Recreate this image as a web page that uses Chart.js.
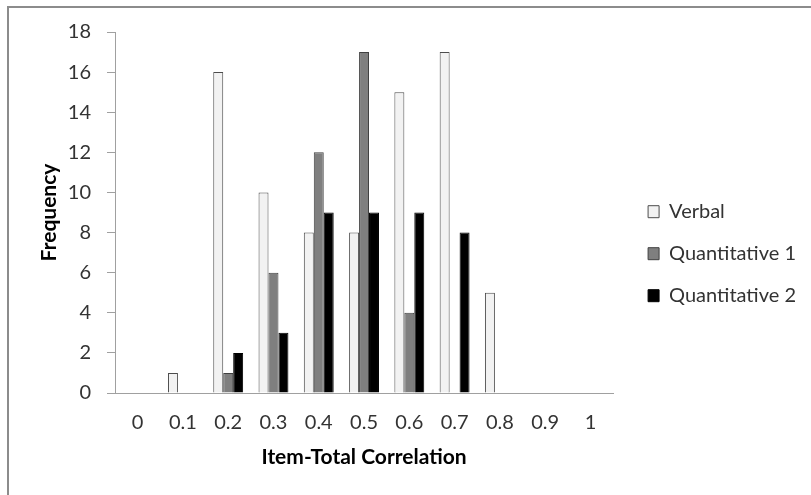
<!DOCTYPE html>
<html>
<head>
<meta charset="utf-8">
<script src="https://cdn.jsdelivr.net/npm/chart.js@4"></script>
<style>
  html, body { margin: 0; padding: 0; background: #fff; }
  #wrap { position: relative; width: 811px; height: 495px; }
  #frame { position: absolute; left: 7px; top: 6px; right: 0; bottom: 0;
           border-left: 2px solid #8c8c8c; border-top: 2px solid #8c8c8c; pointer-events: none; }
</style>
</head>
<body>
<div id="wrap">
  <canvas id="chart" width="811" height="495"></canvas>
  <div id="frame"></div>
</div>
<script>
const labels = ['0', '0.1', '0.2', '0.3', '0.4', '0.5', '0.6', '0.7', '0.8', '0.9', '1'];
const verbal = [0, 1, 16, 10, 8, 8, 15, 17, 5, 0, 0];
const quant1 = [0, 0, 1, 6, 12, 17, 4, 0, 0, 0, 0];
const quant2 = [0, 0, 2, 3, 9, 9, 9, 8, 0, 0, 0];

const font = 'Lato, "Open Sans", sans-serif';
// negative left padding only widens the layout's width budget for the legend;
// the y axis is widened by the same amount so the plot still starts at x=115
const shift = 300;

function draw() {
    const ctx = document.getElementById('chart').getContext('2d');
    new Chart(ctx, {
        type: 'bar',
        data: {
            labels: labels,
            datasets: [
                { label: 'Verbal', data: verbal, backgroundColor: '#f2f2f2', borderColor: '#4d4d4d', borderWidth: 1 },
                { label: 'Quantitative 1', data: quant1, backgroundColor: '#7f7f7f', borderColor: '#404040', borderWidth: 1 },
                { label: 'Quantitative 2', data: quant2, backgroundColor: '#000000', borderColor: '#000000', borderWidth: 1 }
            ]
        },
        options: {
            responsive: false,
            animation: false,
            layout: { padding: { top: 32, right: 5, bottom: 0, left: -shift } },
            datasets: { bar: { categoryPercentage: 0.66, barPercentage: 1.0 } },
            plugins: {
                tooltip: { enabled: false },
                legend: {
                    position: 'right',
                    fullSize: false,
                    title: { display: true, text: ' ', padding: { top: 34, bottom: 34 } },
                    labels: {
                        boxWidth: 11,
                        boxHeight: 12,
                        padding: 22,
                        color: '#333',
                        font: { family: font, size: 20 }
                    }
                }
            },
            scales: {
                x: {
                    grid: { display: false, drawTicks: false },
                    border: { color: '#a0a0a0', width: 1 },
                    ticks: { color: '#333', padding: 18, font: { family: font, size: 20 } },
                    title: { display: true, text: 'Item-Total Correlation', color: '#000',
                             padding: { top: 0, bottom: 25 }, font: { family: font, size: 21, weight: 'bold' } },
                    afterFit: (s) => { s.height = 102; }
                },
                y: {
                    min: 0,
                    max: 18,
                    ticks: { stepSize: 2, color: '#333', padding: 16, font: { family: font, size: 20 } },
                    grid: { drawOnChartArea: false, drawTicks: true, tickLength: 8, color: '#a0a0a0' },
                    border: { color: '#a0a0a0', width: 1 },
                    title: { display: true, text: 'Frequency', color: '#000',
                             padding: { top: 37 + shift, bottom: 0 }, font: { family: font, size: 21, weight: 'bold' } },
                    afterFit: (s) => { s.width = 115 + shift; }
                },
                // spacer between plot and legend
                gap: {
                    type: 'linear',
                    position: 'right',
                    grid: { display: false },
                    border: { display: false },
                    ticks: { display: false },
                    afterFit: (s) => { s.width = 13; }
                }
            }
        }
    });
}

Promise.all([
    document.fonts.load('20px Lato'),
    document.fonts.load('bold 21px Lato')
]).then(draw, draw);
</script>
</body>
</html>
